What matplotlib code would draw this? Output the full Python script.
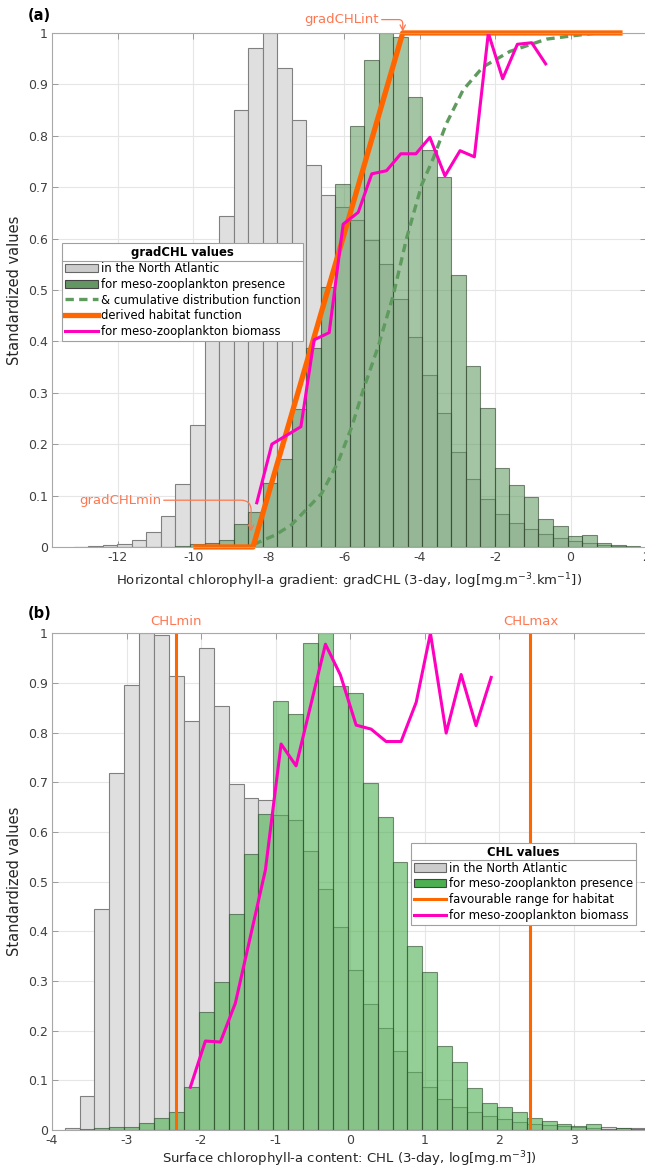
import numpy as np
import matplotlib.pyplot as plt
from matplotlib.colors import to_rgba
from matplotlib.patches import Patch
from matplotlib.lines import Line2D

# ---- (a) horizontal chlorophyll-a gradient ----
grad_first_edge = -13.17   # left edge of first histogram bin
grad_bin_width = 0.385
grad_na = [0.0005, 0.001, 0.003, 0.006, 0.013, 0.029, 0.060, 0.123, 0.237, 0.44,
           0.643, 0.850, 0.970, 1.0, 0.931, 0.830, 0.743, 0.685, 0.661, 0.636,
           0.597, 0.550, 0.482, 0.408, 0.335, 0.260, 0.185, 0.132, 0.093, 0.064,
           0.046, 0.034, 0.025, 0.017, 0.012, 0.007, 0.003, 0.001, 0.0005]
grad_pres = [0, 0, 0, 0, 0, 0, 0, 0.002, 0.006, 0.008,
             0.013, 0.044, 0.069, 0.124, 0.171, 0.268, 0.388, 0.506, 0.706, 0.819,
             0.947, 1.0, 0.992, 0.876, 0.772, 0.720, 0.529, 0.352, 0.270, 0.154,
             0.121, 0.098, 0.054, 0.041, 0.022, 0.023, 0.007, 0.004, 0.001]
grad_cdf_x = [-8.40, -7.84, -7.40, -6.60, -6.16, -5.80, -5.50, -5.10, -4.70, -4.35,
              -3.95, -3.64, -3.29, -2.85, -2.32, -1.61, -0.64, 0.0, 0.7]
grad_cdf_y = [0.005, 0.023, 0.043, 0.104, 0.166, 0.234, 0.305, 0.390, 0.490, 0.600,
              0.704, 0.756, 0.824, 0.889, 0.934, 0.964, 0.988, 0.994, 1.0]
grad_hab_x = [-10.0, -8.42, -4.45, 1.38]
grad_hab_y = [0, 0, 1, 1]
grad_bio_x = [-8.32, -7.92, -7.15, -6.80, -6.40, -6.03, -5.63, -5.27, -4.88, -4.50,
              -4.10, -3.73, -3.33, -2.93, -2.55, -2.18, -1.80, -1.41, -1.03, -0.66]
grad_bio_y = [0.086, 0.200, 0.234, 0.403, 0.417, 0.628, 0.651, 0.726, 0.732, 0.765,
              0.765, 0.797, 0.722, 0.771, 0.759, 1.0, 0.911, 0.978, 0.981, 0.940]

# ---- (b) surface chlorophyll-a ----
chl_first_edge = -3.83
chl_bin_width = 0.2
chl_na = [0.003, 0.068, 0.444, 0.718, 0.895, 1.0, 0.996, 0.913, 0.824, 0.970,
          0.854, 0.696, 0.668, 0.664, 0.634, 0.624, 0.562, 0.485, 0.409, 0.323,
          0.253, 0.205, 0.158, 0.117, 0.087, 0.063, 0.047, 0.036, 0.029, 0.022,
          0.017, 0.012, 0.010, 0.007, 0.006, 0.004, 0.005, 0.004, 0.003]
chl_pres = [0.0, 0.001, 0.003, 0.005, 0.005, 0.015, 0.024, 0.036, 0.086, 0.237,
            0.298, 0.435, 0.555, 0.636, 0.864, 0.838, 0.980, 1.0, 0.894, 0.880,
            0.699, 0.631, 0.540, 0.370, 0.317, 0.169, 0.136, 0.085, 0.055, 0.047,
            0.036, 0.024, 0.019, 0.012, 0.008, 0.011, 0.002, 0.003, 0.002]
chl_min = -2.33
chl_max = 2.42
chl_bio_x = [-2.144, -1.942, -1.741, -1.540, -1.137, -0.926, -0.725, -0.331, -0.130, 0.081,
             0.282, 0.483, 0.684, 0.887, 1.078, 1.289, 1.49, 1.69, 1.893]
chl_bio_y = [0.086, 0.179, 0.177, 0.255, 0.523, 0.777, 0.733, 0.978, 0.916, 0.815,
             0.807, 0.782, 0.782, 0.861, 1.0, 0.799, 0.917, 0.814, 0.911]

# colours
GRAY = '#dfdfdf'
GRAY_EDGE = '#808080'
GREEN_A = '#5a965a'
GREEN_B = '#4caf50'
ORANGE = '#ff6600'
MAGENTA = '#ff00bf'
NOTE = '#ff7750'

plt.rcParams['font.family'] = ['DejaVu Sans']

fig = plt.figure(figsize=(6.45, 11.69), dpi=100)
ax1 = fig.add_axes([0.0806, 0.5321, 0.9209, 0.4397])
ax2 = fig.add_axes([0.0806, 0.0334, 0.9209, 0.4249])


def style_axes(ax, xlim, xticks):
    yticks = np.arange(0, 1.01, 0.1)
    ax.set_xlim(xlim)
    ax.set_ylim(0, 1)
    ax.set_xticks(xticks)
    ax.set_xticklabels([f'{t:g}' for t in xticks])
    ax.set_yticks(yticks)
    ax.set_yticklabels([f'{t:g}' for t in yticks])
    ax.grid(True, color='#e6e6e6', lw=0.8)
    ax.set_axisbelow(True)
    ax.tick_params(direction='in', top=True, right=True, length=4, width=0.7,
                   color='#9a9a9a', labelcolor='#404040', labelsize=9, pad=3)
    for s in ax.spines.values():
        s.set_color('#a8a8a8')
        s.set_linewidth(0.8)
    ax.set_ylabel('Standardized values', fontsize=10.5, color='#262626', labelpad=4)


def title_rule(leg):
    # MATLAB style line between the legend title and its entries
    fig.canvas.draw()
    r = fig.canvas.get_renderer()
    box = leg.get_frame().get_window_extent(r)
    tb = leg.get_title().get_window_extent(r)
    first = leg.get_texts()[0].get_window_extent(r)
    y = 0.5 * (tb.y0 + first.y1)
    inv = fig.transFigure.inverted()
    (x0, y0), (x1, _) = inv.transform([(box.x0, y), (box.x1, y)])
    fig.add_artist(Line2D([x0, x1], [y0, y0], color='#a0a0a0', lw=0.8))


# ---------------- panel (a) ----------------
edges_a = grad_first_edge + grad_bin_width * np.arange(len(grad_na))
ax1.bar(edges_a, grad_na, width=grad_bin_width, align='edge',
        color=GRAY, edgecolor=GRAY_EDGE, linewidth=0.8)
ax1.bar(edges_a, grad_pres, width=grad_bin_width, align='edge',
        color=to_rgba(GREEN_A, 0.55), edgecolor=to_rgba('#2c422c', 0.6), linewidth=0.8)
ax1.plot(grad_cdf_x, grad_cdf_y, color='#5f9a5f', lw=2.4, ls=(0, (2.5, 1.6)))
ax1.plot(grad_hab_x, grad_hab_y, color=ORANGE, lw=3.8, solid_capstyle='butt', clip_on=False)
ax1.plot(grad_bio_x, grad_bio_y, color=MAGENTA, lw=2.2)

style_axes(ax1, (-13.75, 2.0), np.arange(-12, 3, 2))
ax1.set_xlabel('Horizontal chlorophyll-a gradient: gradCHL (3-day, log[mg.m$^{-3}$.km$^{-1}$])',
               fontsize=9.5, color='#262626', labelpad=5)

ax1.annotate('gradCHLint', xy=(grad_hab_x[2], 1.0), xytext=(-6.07, 1.026),
             color=NOTE, fontsize=9.5, ha='center', va='center', annotation_clip=False,
             arrowprops=dict(arrowstyle='->', color=NOTE, lw=0.9, shrinkA=0, shrinkB=1,
                             connectionstyle='angle,angleA=0,angleB=90,rad=4'))
ax1.annotate('gradCHLmin', xy=(grad_hab_x[1] - 0.05, 0.03), xytext=(-11.95, 0.091),
             color=NOTE, fontsize=9.5, ha='center', va='center',
             arrowprops=dict(arrowstyle='->', color=NOTE, lw=0.9, shrinkA=0, shrinkB=0,
                             connectionstyle='angle,angleA=0,angleB=90,rad=10'))

hand_a = [Patch(facecolor='#cccccc', edgecolor='#666666', lw=0.8),
          Patch(facecolor='#649664', edgecolor='#444444', lw=0.8),
          Line2D([], [], color='#5f9a5f', lw=2.4, ls=(0, (2.5, 1.6))),
          Line2D([], [], color=ORANGE, lw=3.8),
          Line2D([], [], color=MAGENTA, lw=2.2)]
lab_a = ['in the North Atlantic', 'for meso-zooplankton presence',
         '& cumulative distribution function', 'derived habitat function',
         'for meso-zooplankton biomass']
leg_a = ax1.legend(hand_a, lab_a, title='gradCHL values', loc='upper left',
                   bbox_to_anchor=(0.017, 0.591), borderaxespad=0, fontsize=8.4,
                   title_fontproperties={'weight': 'bold', 'size': 8.4},
                   handlelength=2.8, handletextpad=0.25, labelspacing=0.24,
                   borderpad=0.25, fancybox=False, framealpha=1, edgecolor='#a0a0a0')
leg_a.get_frame().set_linewidth(0.8)

# ---------------- panel (b) ----------------
edges_b = chl_first_edge + chl_bin_width * np.arange(len(chl_na))
ax2.bar(edges_b, chl_na, width=chl_bin_width, align='edge',
        color=GRAY, edgecolor=GRAY_EDGE, linewidth=0.8)
ax2.bar(edges_b, chl_pres, width=chl_bin_width, align='edge',
        color=to_rgba(GREEN_B, 0.6), edgecolor=to_rgba('#2c4a2c', 0.6), linewidth=0.8)
ax2.axvline(chl_min, color=ORANGE, lw=2.2)
ax2.axvline(chl_max, color=ORANGE, lw=2.2)
ax2.plot(chl_bio_x, chl_bio_y, color=MAGENTA, lw=2.2)

style_axes(ax2, (-4, 3.97), np.arange(-4, 4, 1))
ax2.set_xlabel('Surface chlorophyll-a content: CHL (3-day, log[mg.m$^{-3}$])',
               fontsize=9.5, color='#262626', labelpad=2)
tr = ax2.get_xaxis_transform()
ax2.text(chl_min, 1.024, 'CHLmin', transform=tr, color=NOTE, fontsize=9.5, ha='center', va='center')
ax2.text(chl_max, 1.024, 'CHLmax', transform=tr, color=NOTE, fontsize=9.5, ha='center', va='center')

hand_b = [Patch(facecolor='#cccccc', edgecolor='#666666', lw=0.8),
          Patch(facecolor=GREEN_B, edgecolor='#444444', lw=0.8),
          Line2D([], [], color=ORANGE, lw=2.2),
          Line2D([], [], color=MAGENTA, lw=2.2)]
lab_b = ['in the North Atlantic', 'for meso-zooplankton presence',
         'favourable range for habitat', 'for meso-zooplankton biomass']
leg_b = ax2.legend(hand_b, lab_b, title='CHL values', loc='upper left',
                   bbox_to_anchor=(0.604, 0.578), borderaxespad=0, fontsize=8.4,
                   title_fontproperties={'weight': 'bold', 'size': 8.4},
                   handlelength=2.8, handletextpad=0.25, labelspacing=0.24,
                   borderpad=0.25, fancybox=False, framealpha=1, edgecolor='#a0a0a0')
leg_b.get_frame().set_linewidth(0.8)

fig.text(28 / 645, 1 - 15 / 1169, '(a)', fontweight='bold', fontsize=10.5, va='center')
fig.text(28 / 645, 1 - 613 / 1169, '(b)', fontweight='bold', fontsize=10.5, va='center')

title_rule(leg_a)
title_rule(leg_b)

fig.savefig('out.png', dpi=100)
